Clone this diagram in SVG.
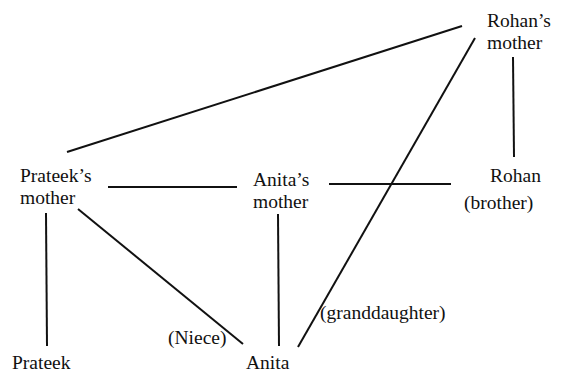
<svg xmlns="http://www.w3.org/2000/svg" width="564" height="374" viewBox="0 0 564 374">
<style>
text{font-family:"Liberation Serif","Times New Roman",serif;font-size:19.5px;fill:#111}
.c line{stroke:#111;stroke-width:2;stroke-linecap:butt}
</style>
<rect width="564" height="374" fill="#fff"/>
<g class="c" id="connectors">
<line x1="462" y1="26" x2="67" y2="152"/>
<line x1="475" y1="38" x2="298" y2="347"/>
<line x1="513" y1="57" x2="514" y2="157"/>
<line x1="108" y1="187" x2="237" y2="187"/>
<line x1="329" y1="184" x2="451" y2="184"/>
<line x1="46" y1="213" x2="47" y2="346"/>
<line x1="78" y1="209" x2="243" y2="344"/>
<line x1="278" y1="214" x2="279" y2="346"/>
</g>
<g id="rohans-mother"><text x="487" y="27">Rohan’s</text><text x="487" y="49">mother</text></g>
<g id="prateeks-mother"><text x="20" y="182">Prateek’s</text><text x="20" y="204">mother</text></g>
<g id="anitas-mother"><text x="253" y="186">Anita’s</text><text x="253" y="208">mother</text></g>
<g id="rohan"><text x="490" y="182">Rohan</text><text x="464" y="209">(brother)</text></g>
<g id="prateek"><text x="12" y="369">Prateek</text></g>
<g id="anita"><text x="246" y="369">Anita</text></g>
<g id="labels"><text x="320" y="319">(granddaughter)</text><text x="168" y="344">(Niece)</text></g>
</svg>
